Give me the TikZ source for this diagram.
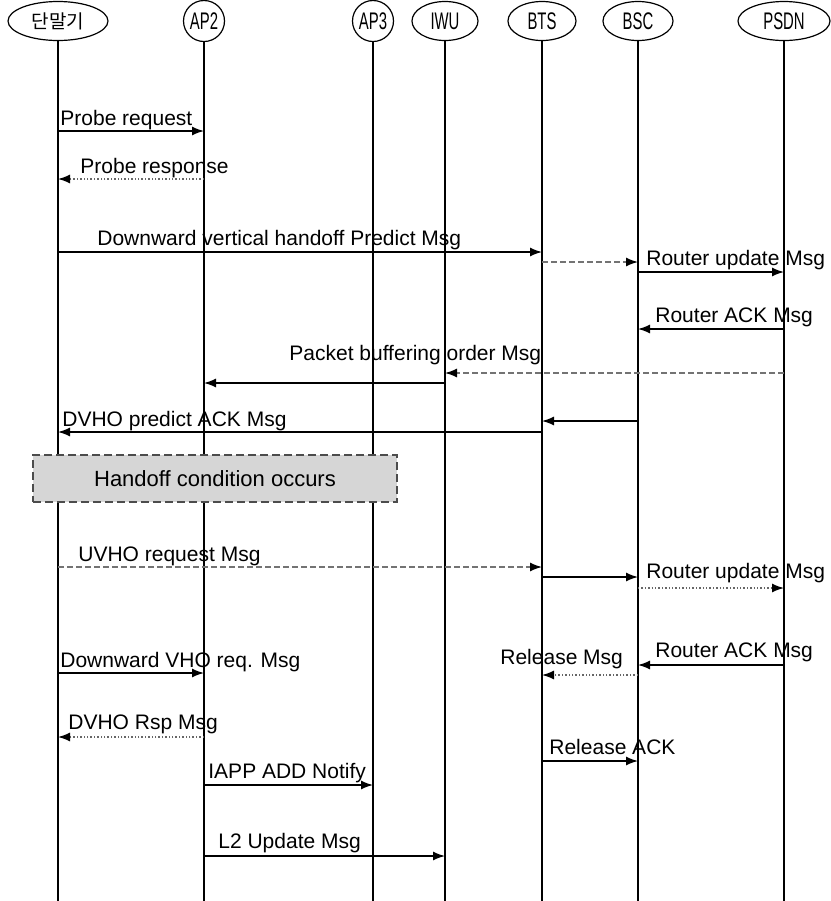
\documentclass[tikz,border=0pt]{standalone}
\usepackage{fontspec}
\setmainfont{Liberation Sans}
\newfontfamily\krfont{Noto Sans CJK KR}
\newfontfamily\hdfont[FakeStretch=0.62]{Liberation Sans}
\usetikzlibrary{arrows.meta,shapes.geometric}

\begin{document}
\begin{tikzpicture}[x=0.5pt,y=-0.5pt,
        every node/.append style={font=\fontsize{10.5}{12}\selectfont},
        head/.style={draw, ellipse, line width=0.6pt, inner sep=0pt, minimum height=19.5pt,
            font=\hdfont\fontsize{12}{14}\selectfont},
        life/.style={line width=0.6pt},
        msg/.style={line width=0.7pt, -{Latex[length=6pt,width=4.5pt,color=black]}},
        dmsg/.style={msg, dash pattern=on 3pt off 1.5pt, draw=black!55},
        pmsg/.style={msg, densely dotted, draw=black!60},
        lbl/.style={anchor=base west, inner sep=0pt}]
    \useasboundingbox (0,0) rectangle (831,901);
    % entities
    \node[head, minimum width=50pt, font=\krfont\fontsize{9.5}{12}\selectfont] (tm) at (58,21) {단말기};
    \node[head, circle, minimum size=20.5pt] (ap2) at (204,21) {AP2};
    \node[head, circle, minimum size=20.5pt] (ap3) at (373,21) {AP3};
    \node[head, minimum width=33pt] (iwu) at (445,21) {IWU};
    \node[head, minimum width=34pt] (bts) at (542,21) {BTS};
    \node[head, minimum width=35pt] (bsc) at (638,21) {BSC};
    \node[head, minimum width=46pt] (psdn) at (784,21) {PSDN};
    \foreach \n in {tm,ap2,ap3,iwu,bts,bsc,psdn}
        \draw[life] (\n.south) -- (\n |- 0,901);
    % probe
    \draw[msg] (tm |- 0,131) -- (ap2 |- 0,131);
    \node[lbl] (lProbeReq) at (60,125) {Probe request};
    \draw[pmsg] (ap2 |- 0,179) -- (tm |- 0,179);
    \node[lbl] (lProbeRsp) at (80,173) {Probe response};
    % predict
    \draw[msg] (tm |- 0,252) -- (bts |- 0,252);
    \node[lbl] (lPredict) at (97,245) {Downward vertical handoff Predict Msg};
    \draw[dmsg] (bts |- 0,262) -- (bsc |- 0,262);
    \draw[msg] (bsc |- 0,272) -- (psdn |- 0,272);
    \node[lbl] (lRtUpd) at (646,265) {Router update Msg};
    \draw[msg] (psdn |- 0,329) -- (bsc |- 0,329);
    \node[lbl] (lRtAck) at (655,322) {Router ACK Msg};
    \draw[dmsg] (psdn |- 0,373) -- (iwu |- 0,373);
    \draw[msg] (iwu |- 0,383) -- (ap2 |- 0,383);
    \node[lbl] (lBuffer) at (289,360) {Packet buffering order Msg};
    \draw[msg] (bsc |- 0,421) -- (bts |- 0,421);
    \draw[msg] (bts |- 0,432) -- (tm |- 0,432);
    \node[lbl] (lPredAck) at (62,426) {DVHO predict ACK Msg};
    % handoff condition
    \node[draw=black!70, fill=black!16, line width=0.9pt, dash pattern=on 4pt off 2pt,
        minimum width=182pt, minimum height=23.5pt, inner sep=0pt,
        font=\fontsize{11}{13}\selectfont] (cond) at (215,478.5) {Handoff condition occurs};
    % upward
    \draw[dmsg] (tm |- 0,567) -- (bts |- 0,567);
    \node[lbl] (lUvho) at (78,561) {UVHO request Msg};
    \draw[msg] (bts |- 0,577) -- (bsc |- 0,577);
    \draw[pmsg] (bsc |- 0,588) -- (psdn |- 0,588);
    \node[lbl] (lRtUpd2) at (646,578) {Router update Msg};
    \draw[msg] (psdn |- 0,665) -- (bsc |- 0,665);
    \node[lbl] (lRtAck2) at (655,657) {Router ACK Msg};
    \draw[pmsg] (bsc |- 0,675) -- (bts |- 0,675);
    \node[lbl] (lRel) at (500,664) {Release Msg};
    \draw[msg] (tm |- 0,673) -- (ap2 |- 0,673);
    \node[lbl] (lVhoReq) at (60,667) {Downward VHO req. Msg};
    \draw[pmsg] (ap2 |- 0,737) -- (tm |- 0,737);
    \node[lbl] (lVhoRsp) at (68,729) {DVHO Rsp Msg};
    \draw[msg] (bts |- 0,761) -- (bsc |- 0,761);
    \node[lbl] (lRelAck) at (549,754) {Release ACK};
    \draw[msg] (ap2 |- 0,785) -- (ap3 |- 0,785);
    \node[lbl] (lIapp) at (208,778) {IAPP ADD Notify};
    \draw[msg] (ap2 |- 0,856) -- (iwu |- 0,856);
    \node[lbl] (lL2) at (218,848) {L2 Update Msg};
\end{tikzpicture}
\end{document}
